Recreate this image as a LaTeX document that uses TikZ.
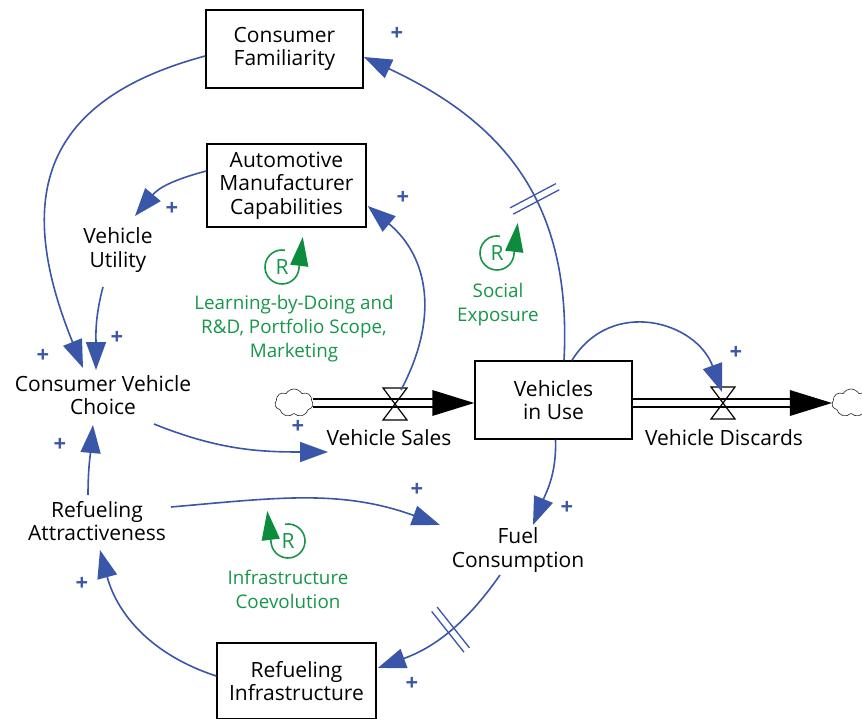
\documentclass[tikz,border=0pt]{standalone}
\usepackage{fontspec}
\setmainfont{Open Sans}
\usetikzlibrary{arrows.meta, positioning, shapes.symbols}
\definecolor{LinkBlue}{HTML}{3A56A9}
\definecolor{LoopGreen}{HTML}{17964A}
\definecolor{LoopArrow}{HTML}{0E8C3E}
\tikzset{
  valve/.pic={\draw[line width=1.2pt] (-12,16) -- (12,16) -- (-12,-16) -- (12,-16) -- cycle;},
  delay/.pic={\draw[LinkBlue, line width=1.3pt, arrows=-] (-3.5,-26) -- (-3.5,26) (3.5,-26) -- (3.5,26);}
}
\begin{document}
\begin{tikzpicture}[x=1pt, y=1pt,
    box/.style={draw, line width=1.5pt, minimum width=157pt, minimum height=78pt, align=center, inner sep=0pt, font=\fontsize{21}{23.5}\selectfont},
    txt/.style={align=center, inner sep=0pt, font=\fontsize{21}{23.5}\selectfont},
    loopname/.style={align=center, inner sep=0pt, text=LoopGreen, font=\fontsize{18.8}{24}\selectfont},
    loopR/.style={inner sep=0pt, text=LoopGreen, font=\fontsize{21}{21}\selectfont},
    looparc/.style={LoopGreen, line width=1.6pt, -{Triangle[length=29pt, width=18pt, color=LoopArrow]}},
    pol/.style={inner sep=0pt, text=LinkBlue, font=\fontsize{22}{22}\selectfont\bfseries},
    link/.style={LinkBlue, line width=1.6pt, -{Triangle[length=28pt, width=20pt]}},
    pipe/.style={double=white, double distance=6pt, line width=1.8pt},
    sink/.style={cloud, cloud puffs=7, cloud puff arc=120, aspect=1.4, draw=black!85, line width=0.6pt, minimum width=38pt, minimum height=28pt, inner sep=0pt}
  ]
  \useasboundingbox (0,0) rectangle (862,-719);

  \node[box] (fam) at (284.5,-49) {Consumer\\Familiarity};
  \node[box, minimum width=159pt, minimum height=83pt] (amc) at (286.5,-185.5) {Automotive\\Manufacturer\\Capabilities};
  \node[box] (stock) at (553.5,-400) {Vehicles\\in Use};
  \node[box, minimum width=159pt, minimum height=76pt] (ri) at (296.5,-681) {Refueling\\Infrastructure};
  \node[txt] (vu) at (118,-250) {Vehicle\\Utility};
  \node[txt] (cvc) at (103,-395) {Consumer Vehicle\\Choice};
  \node[txt] (ra) at (97,-521) {Refueling\\Attractiveness};
  \node[txt] (fc) at (518,-550) {Fuel\\Consumption};
  \node[txt] (vslab) at (389,-437.5) {Vehicle Sales};
  \node[txt] (vdlab) at (724,-438) {Vehicle Discards};

  \node[sink] (cloudL) at (294,-403) {};
  \node[sink] (cloudR) at (851,-403) {};
  \coordinate (vsV) at (395,-404);
  \coordinate (vdV) at (723,-403);

  \draw[pipe, shorten >=40pt] (cloudL.east) -- (cloudL.east -| stock.west);
  \fill (cloudL.east -| stock.west) -- ++(-42,13) -- ++(0,-26) -- cycle;
  \draw[pipe, shorten >=40pt] (stock.east |- cloudR.west) -- (cloudR.west);
  \fill (cloudR.west) -- ++(-42,13) -- ++(0,-26) -- cycle;
  \pic at (vsV) {valve};
  \pic at (vdV) {valve};

  \draw[link] ([xshift=10.5pt]stock.north) to[out=87, in=-25, looseness=1.1] pic[pos=0.42, sloped] {delay} ([yshift=-8pt]fam.east);
  \draw[link] ([yshift=-7pt]fam.west) to[out=195, in=112, looseness=1.35] ([shift={(-20,27)}]cvc.center);
  \draw[link] ([yshift=14.5pt]amc.west) to[out=195, in=50, looseness=1.1] ([shift={(17,34)}]vu.center);
  \draw[link] ([shift={(-15,-37)}]vu.center) to[out=-105, in=90] ([shift={(-7,25)}]cvc.center);
  \draw[link] ([shift={(6,14)}]vsV) to[out=62, in=-40, looseness=1.1] ([shift={(1,-20.5)}]amc.east);
  \draw[link] ([shift={(51,-29)}]cvc.center) to[out=-22, in=180] ([shift={(-61,-14.5)}]vslab.center);
  \draw[link] ([shift={(-9,26)}]ra.center) to[out=90, in=-95] ([shift={(-10,-30)}]cvc.center);
  \draw[link] ([shift={(74,14)}]ra.center) to[out=5, in=160] ([shift={(-78,25)}]fc.center);
  \draw[link] ([xshift=2pt]stock.south) to[out=-88, in=68] ([shift={(15,25)}]fc.center);
  \draw[link] ([shift={(-18,-25)}]fc.center) to[out=-125, in=20] pic[pos=0.47, sloped] {delay} ([shift={(1,13)}]ri.east);
  \draw[link] ([yshift=5pt]ri.west) to[out=162, in=-75] ([shift={(3,-29)}]ra.center);
  \draw[link] ([xshift=18.5pt]stock.north) to[out=58, in=110, looseness=1.25] ([shift={(-1,11)}]vdV);

  \node[pol] (p1) at (397,-34) {+};
  \node[pol] (p2) at (43,-356) {+};
  \node[pol] (p3) at (172,-209) {+};
  \node[pol] (p4) at (117,-338) {+};
  \node[pol] (p5) at (403,-198) {+};
  \node[pol] (p6) at (298,-427) {+};
  \node[pol] (p7) at (60,-445) {+};
  \node[pol] (p8) at (417,-490) {+};
  \node[pol] (p9) at (567,-508) {+};
  \node[pol] (p10) at (412,-684) {+};
  \node[pol] (p11) at (82,-584) {+};
  \node[pol] (p12) at (736,-353) {+};

  \node[loopR] (r1) at (282,-267) {R};
  \draw[looparc] ([shift={(80:17)}]r1.center) arc[start angle=80, end angle=350, radius=17] -- ++(4,33);
  \node[loopname] (l1) at (294,-329) {Learning-by-Doing and\\R\&D, Portfolio Scope,\\Marketing};
  \node[loopR] (r2) at (497,-253) {R};
  \draw[looparc] ([shift={(80:17)}]r2.center) arc[start angle=80, end angle=350, radius=17] -- ++(4,33);
  \node[loopname] (l2) at (498,-305) {Social\\Exposure};
  \node[loopR] (r3) at (288,-541) {R};
  \draw[looparc] ([shift={(100:17)}]r3.center) arc[start angle=100, end angle=-170, radius=17] -- ++(-4,33);
  \node[loopname] (l3) at (288,-589) {Infrastructure\\Coevolution};
\end{tikzpicture}
\end{document}
